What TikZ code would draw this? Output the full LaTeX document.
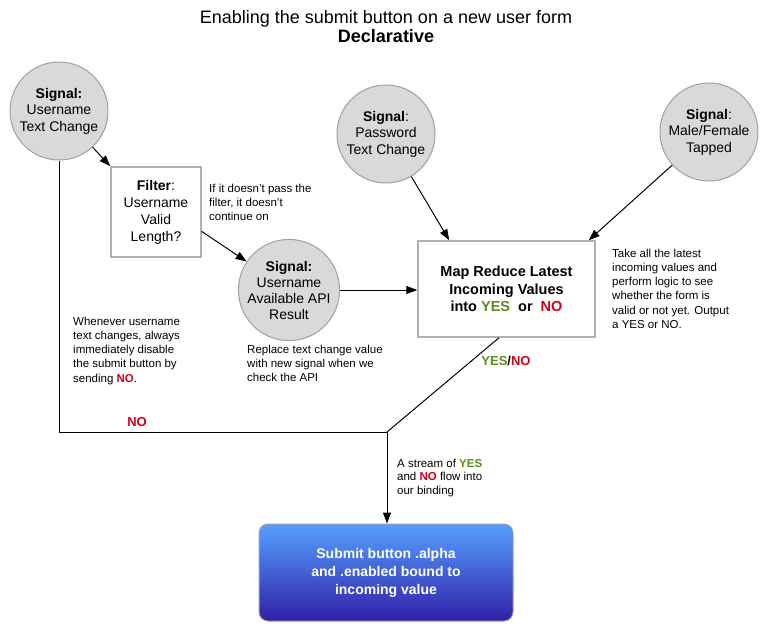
\documentclass[tikz,border=0pt]{standalone}
\usepackage{fontspec}
\setmainfont{Liberation Sans}
\usetikzlibrary{arrows.meta,calc}
\definecolor{nored}{HTML}{D0021B}
\definecolor{yesgreen}{HTML}{5B8C1E}
\definecolor{sigfill}{HTML}{D9D9D9}
\definecolor{sigline}{HTML}{A0A0A0}
\definecolor{boxline}{HTML}{B0B0B0}
\definecolor{btntop}{HTML}{55A0FF}
\definecolor{btnbot}{HTML}{3020A8}
\newcommand{\myyes}{\textcolor{yesgreen}{\textbf{YES}}}
\newcommand{\myno}{\textcolor{nored}{\textbf{NO}}}
\begin{document}
\begin{tikzpicture}[x=1pt,y=1pt,
  sig/.style={circle, draw=sigline, fill=sigfill, line width=1pt, minimum size=98pt, inner sep=0pt, align=center, font=\fontsize{14}{16.5}\selectfont},
  sqbox/.style={rectangle, draw=boxline, fill=white, line width=1.5pt, inner sep=0pt, align=center},
  note/.style={anchor=base west, inner sep=0pt, align=left, font=\fontsize{11.5}{14.3}\selectfont},
  arr/.style={-{Triangle[length=11pt,width=8pt]}, line width=1pt},
  plain/.style={line width=1pt},
]
\useasboundingbox (0,0) rectangle (772,-638);
\fill[white] (0,0) rectangle (772,-638);

\node[anchor=base, inner sep=0pt, font=\fontsize{18}{20}\selectfont] (title) at (386,-23) {Enabling the submit button on a new user form};
\node[anchor=base, inner sep=0pt, font=\fontsize{18}{20}\selectfont\bfseries] (subtitle) at (386,-42) {Declarative};

\node[sig] (c1) at (59,-111) {\textbf{Signal:}\\Username\\Text Change};
\node[sqbox, minimum width=90pt, minimum height=90pt, font=\fontsize{14}{17}\selectfont] (filter) at (156,-212) {\textbf{Filter}:\\Username\\Valid\\Length?};
\node[sig, font=\fontsize{14}{16}\selectfont] (api) at (289,-290) {\textbf{Signal:}\\Username\\Available API\\Result};
\node[sig] (pw) at (386,-134) {\textbf{Signal}:\\Password\\Text Change};
\node[sig] (mf) at (709,-132) {\textbf{Signal}:\\Male/Female\\Tapped};
\node[sqbox, minimum width=177pt, minimum height=96pt, font=\fontsize{14.5}{17.5}\selectfont\bfseries] (map) at (506.5,-289) {Map Reduce Latest\\Incoming Values\\into \textcolor{yesgreen}{YES}~ or~ \textcolor{nored}{NO}};
\node[rectangle, rounded corners=9pt, draw=sigline, line width=1pt, top color=btntop, bottom color=btnbot, minimum width=254pt, minimum height=97pt, align=center, text=white, font=\fontsize{14}{18}\selectfont\bfseries] (submit) at (386,-572.5) {Submit button .alpha\\and .enabled bound to\\incoming value};

\coordinate (corner) at (387,-432);
\coordinate (pwin) at ($(map.north west)+(32,0)$);
\coordinate (mfin) at ($(map.north east)+(-7,0)$);
\coordinate (mapout) at ($(map.south)+(-7.5,0)$);

\draw[arr] (c1) -- (filter.north west);
\draw[arr] (filter.-23) -- (api);
\draw[arr] (api.east) -- (api.east -| map.west);
\draw[arr] (pw) -- (pwin);
\draw[arr] (mf) -- (mfin);
\draw[plain] (c1.south) -- (c1.south |- corner) -- (corner);
\draw[plain] (mapout) -- (corner);
\draw[arr] (corner) -- (submit.north -| corner);

\node[note] (n1) at (209,-220.6) {If it doesn't pass the\\filter, it doesn't\\continue on};
\node[note] (n2) at (247,-381.6) {Replace text change value\\with new signal when we\\check the API};
\node[note] (n3) at (73,-382.2) {Whenever username\\text changes, always\\immediately disable\\the submit button by\\sending \myno.};
\node[note] (n4) at (612,-328.5) {Take all the latest\\incoming values and\\perform logic to see\\whether the form is\\valid or not yet. Output\\a YES or NO.};
\node[note, font=\fontsize{11.5}{13.8}\selectfont] (n5) at (397,-494.6) {A stream of \myyes\\and \myno{} flow into\\our binding};
\node[inner sep=0pt, font=\fontsize{13}{15}\selectfont] (nolbl) at (137,-422) {\myno};
\node[inner sep=0pt, font=\fontsize{13}{15}\selectfont\bfseries] (ynlbl) at (506,-361) {\textcolor{yesgreen}{YES}/\textcolor{nored}{NO}};
\end{tikzpicture}
\end{document}
